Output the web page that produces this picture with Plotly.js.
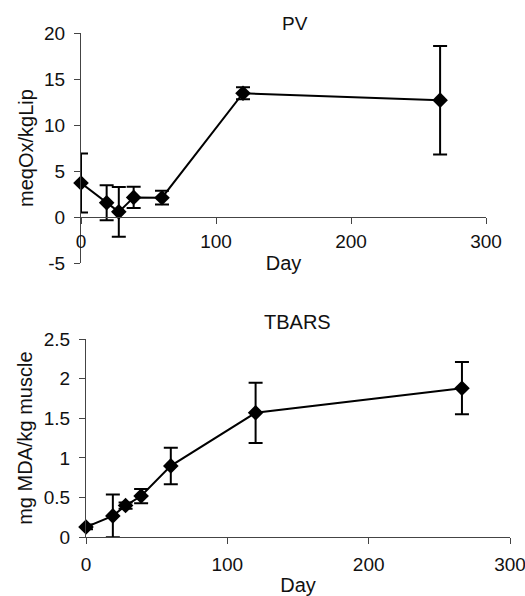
<!DOCTYPE html>
<html>
<head>
<meta charset="utf-8">
<script src="https://cdn.plot.ly/plotly-3.0.1.min.js"></script>
<style>html,body{margin:0;padding:0;background:#fff;}#chart{width:525px;height:596px;}</style>
</head>
<body>
<div id="chart"></div>
<script>
// Data
const days = [0, 19, 28, 39, 60, 120, 266];
const pv = [3.7, 1.55, 0.56, 2.13, 2.1, 13.45, 12.7];
const pvErr = [3.2, 1.9, 2.7, 1.15, 0.75, 0.65, 5.9];
const tbars = [0.13, 0.27, 0.40, 0.52, 0.90, 1.57, 1.88];
const tbarsErr = [0.03, 0.27, 0.04, 0.09, 0.23, 0.38, 0.33];
const xTicks = [0, 100, 200, 300];
const pvTicks = [-5, 0, 5, 10, 15, 20];
const tbarsTicks = [0, 0.5, 1, 1.5, 2, 2.5];

const W = 525, H = 596;
const FONT = 'Liberation Sans, Arial, sans-serif';
const INK = '#111';
const AX = '#444';

const yDom1 = [1 - 263 / H, 1 - 33 / H];
const yRange1 = [-5, 20];
const zeroPos1 = yDom1[0] + (0 - yRange1[0]) / (yRange1[1] - yRange1[0]) * (yDom1[1] - yDom1[0]);

const common = {
  mode: 'lines+markers',
  line: {color: '#000', width: 2},
  marker: {symbol: 'diamond', size: 12, color: '#000'},
  cliponaxis: false,
  showlegend: false
};

const traces = [
  Object.assign({}, common, {
    x: days, y: pv, xaxis: 'x', yaxis: 'y',
    error_y: {type: 'data', array: pvErr, visible: true, color: '#000', thickness: 2, width: 7}
  }),
  Object.assign({}, common, {
    x: days, y: tbars, xaxis: 'x2', yaxis: 'y2',
    error_y: {type: 'data', array: tbarsErr, visible: true, color: '#000', thickness: 2, width: 7}
  })
];

const axBase = {
  showgrid: false, zeroline: false, showline: true, linecolor: AX, linewidth: 1,
  ticks: 'outside', ticklen: 6, tickcolor: AX, tickwidth: 1,
  ticklabeloverflow: 'allow',
  tickfont: {family: FONT, size: 19, color: INK}
};

const layout = {
  width: W, height: H,
  margin: {l: 0, r: 0, t: 0, b: 0},
  paper_bgcolor: '#fff', plot_bgcolor: 'rgba(0,0,0,0)',
  font: {family: FONT, color: INK},
  xaxis: Object.assign({}, axBase, {
    domain: [81 / W, 486 / W], range: [0, 300], anchor: 'free', position: zeroPos1,
    tickvals: xTicks, ticktext: xTicks.map(String), ticklabelstandoff: 1,
    title: {text: 'Day', font: {family: FONT, size: 20, color: INK}, standoff: 5}
  }),
  yaxis: Object.assign({}, axBase, {
    domain: yDom1, range: yRange1, anchor: 'x',
    tickvals: pvTicks, ticktext: pvTicks.map(String), ticklabelstandoff: 5,
    title: {text: 'meqOx/kgLip', font: {family: FONT, size: 20, color: INK}, standoff: 5}
  }),
  xaxis2: Object.assign({}, axBase, {
    domain: [86 / W, 510 / W], range: [0, 300], anchor: 'y2',
    tickvals: xTicks, ticktext: xTicks.map(String), ticklabelstandoff: 4,
    title: {text: 'Day', font: {family: FONT, size: 20, color: INK}, standoff: 8}
  }),
  yaxis2: Object.assign({}, axBase, {
    domain: [1 - 537.3 / H, 1 - 339 / H], range: [0, 2.5], anchor: 'x2',
    tickvals: tbarsTicks, ticktext: tbarsTicks.map(String), ticklabelstandoff: 5,
    title: {text: 'mg MDA/kg muscle', font: {family: FONT, size: 20, color: INK}, standoff: 5}
  }),
  annotations: [
    {text: 'PV', xref: 'paper', yref: 'paper', x: 295 / W, y: 1 - 23 / H, xanchor: 'center', yanchor: 'middle', showarrow: false, font: {family: FONT, size: 19, color: INK}},
    {text: 'TBARS', xref: 'paper', yref: 'paper', x: 297 / W, y: 1 - 322 / H, xanchor: 'center', yanchor: 'middle', showarrow: false, font: {family: FONT, size: 20, color: INK}}
  ]
};

Plotly.newPlot('chart', traces, layout, {staticPlot: true, displayModeBar: false});
</script>
</body>
</html>
